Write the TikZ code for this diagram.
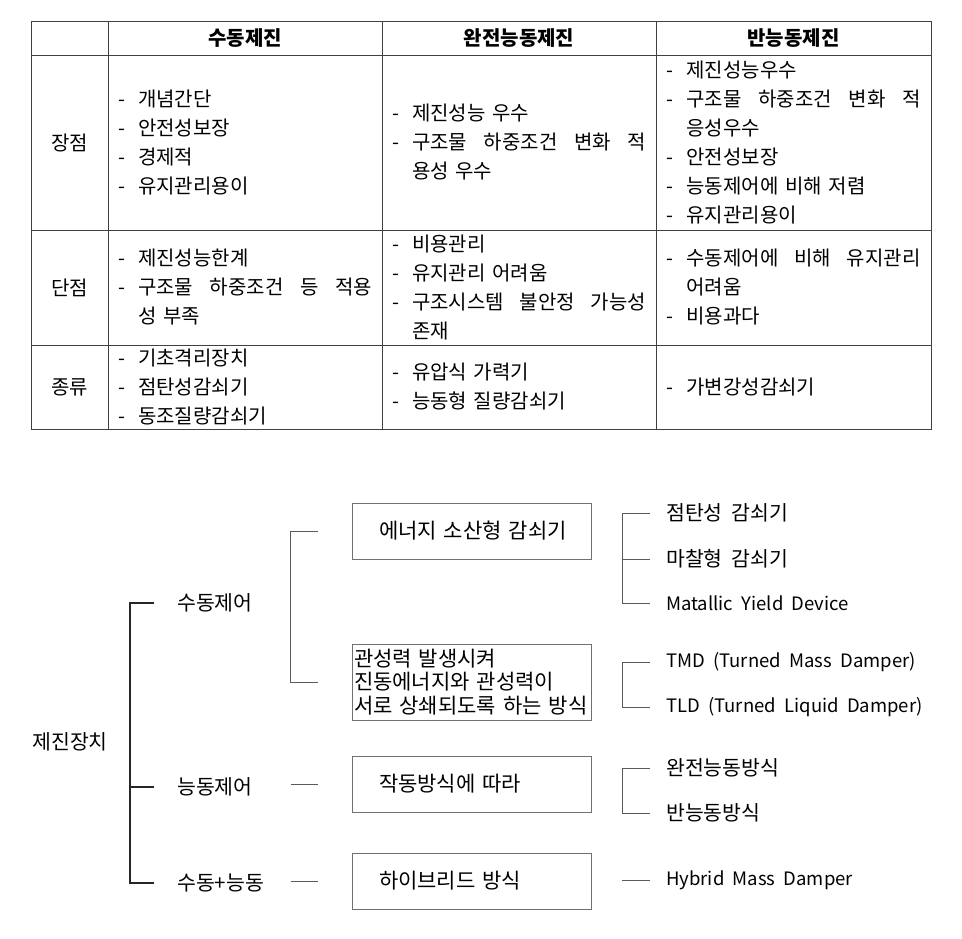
\documentclass[tikz,border=0pt]{standalone}
\usepackage{fontspec}
\setmainfont{Noto Sans CJK KR}[WordSpace=2]
\usepackage{tikz}
\definecolor{rulegray}{HTML}{404040}
\definecolor{boxgray}{HTML}{707070}
\definecolor{linegray}{HTML}{5A5A5A}
\newcommand*{\itm}{\makebox[20pt][l]{-}}
\newcommand*{\jline}[1]{\makebox[254pt][s]{\spaceskip=0.45em plus 1fil\relax\itm #1}}
\newcommand*{\cont}[1]{\hspace*{20pt}#1}

\begin{document}
\begin{tikzpicture}[x=1pt, y=-1pt,
    cell/.style={text width=254pt, align=left, inner sep=0pt,
      font=\fontsize{20}{29}\selectfont},
    head/.style={inner sep=0pt, font=\fontsize{20}{22}\selectfont\bfseries},
    rowname/.style={inner sep=0pt, font=\fontsize{20}{22}\selectfont},
    ctrl/.style={anchor=west, inner sep=0pt, font=\fontsize{20.5}{22}\selectfont},
    leaf/.style={anchor=west, inner sep=0pt, font=\fontsize{20.5}{22}\selectfont},
    enleaf/.style={leaf, font=\fontsize{18.5}{22}\selectfont},
    method/.style={draw=boxgray, line width=0.9pt, minimum height=56pt,
      text width=185pt, align=left, inner xsep=27pt,
      font=\fontsize{21}{23.5}\selectfont},
    trunk/.style={draw=black!85, line width=2pt},
    branch/.style={draw=linegray, line width=1pt}]
  \useasboundingbox (0,0) rectangle (962,938);

  % comparison table
  \draw[rulegray, line width=1pt] (31,21) rectangle (931,429);
  \foreach \x in {108, 382, 656}
    \draw[rulegray, line width=1pt] (\x,21) -- (\x,429);
  \foreach \y in {55, 230, 345}
    \draw[rulegray, line width=1pt] (31,\y) -- (931,\y);

  \node[head] (h1) at (245,38) {수동제진};
  \node[head] (h2) at (519,38) {완전능동제진};
  \node[head] (h3) at (793.5,38) {반능동제진};

  \node[rowname] (r1) at (69.5,142.5) {장점};
  \node[rowname] (r2) at (69.5,287.5) {단점};
  \node[rowname] (r3) at (69.5,387) {종류};

  \node[cell] (pros1) at (245,142.5) {\itm 개념간단\\\itm 안전성보장\\\itm 경제적\\\itm 유지관리용이};
  \node[cell] (pros2) at (519,142.5) {\itm 제진성능 우수\\\jline{구조물 하중조건 변화 적}\\\cont{용성 우수}};
  \node[cell] (pros3) at (793.5,142.5) {\itm 제진성능우수\\\jline{구조물 하중조건 변화 적}\\\cont{응성우수}\\\itm 안전성보장\\\itm 능동제어에 비해 저렴\\\itm 유지관리용이};

  \node[cell] (cons1) at (245,287.5) {\itm 제진성능한계\\\jline{구조물 하중조건 등 적용}\\\cont{성 부족}};
  \node[cell] (cons2) at (519,287.5) {\itm 비용관리\\\itm 유지관리 어려움\\\jline{구조시스템 불안정 가능성}\\\cont{존재}};
  \node[cell] (cons3) at (793.5,287.5) {\jline{수동제어에 비해 유지관리}\\\cont{어려움}\\\itm 비용과다};

  \node[cell] (kind1) at (245,387) {\itm 기초격리장치\\\itm 점탄성감쇠기\\\itm 동조질량감쇠기};
  \node[cell] (kind2) at (519,387) {\itm 유압식 가력기\\\itm 능동형 질량감쇠기};
  \node[cell] (kind3) at (793.5,387) {\itm 가변강성감쇠기};

  % damper tree
  \node[ctrl, anchor=center] (root) at (70,742) {제진장치};
  \node[ctrl] (passive) at (177,603) {수동제어};
  \node[ctrl] (active) at (177,787) {능동제어};
  \node[ctrl] (hybrid) at (177,883) {수동+능동};

  \node[method] (dissip) at (471.5,531) {\mbox{에너지 소산형 감쇠기}};
  \node[method, inner xsep=2pt, text width=235pt, minimum height=76pt] (inertia)
    at (471.5,682) {\mbox{관성력 발생시켜}\\\mbox{진동에너지와 관성력이}\\\mbox{서로 상쇄되도록 하는 방식}};
  \node[method] (mode) at (471.5,784) {\mbox{작동방식에 따라}};
  \node[method] (hmd) at (471.5,881) {\mbox{하이브리드 방식}};

  \node[leaf] (visco) at (666,513) {점탄성 감쇠기};
  \node[leaf] (fric) at (666,559) {마찰형 감쇠기};
  \node[enleaf] (myd) at (666,603) {Matallic Yield Device};
  \node[enleaf] (tmd) at (666,662) {TMD (Turned Mass Damper)};
  \node[enleaf] (tld) at (666,707) {TLD (Turned Liquid Damper)};
  \node[leaf] (full) at (666,768) {완전능동방식};
  \node[leaf] (semi) at (666,813) {반능동방식};
  \node[enleaf] (hmdname) at (666,880) {Hybrid Mass Damper};

  \draw[trunk] ([xshift=-23pt]passive.west) -| ([xshift=-47pt]hybrid.west)
    -- ([xshift=-23pt]hybrid.west);
  \draw[trunk] ([xshift=-47pt]active.west) -- ([xshift=-23pt]active.west);

  \draw[branch] ([xshift=-34pt]dissip.west) -| ([xshift=-61pt]inertia.west)
    -- ([xshift=-34pt]inertia.west);
  \draw[branch] ([xshift=-61pt]mode.west) -- ([xshift=-34pt]mode.west);
  \draw[branch] ([xshift=-61pt]hmd.west) -- ([xshift=-34pt]hmd.west);

  \draw[branch] ([xshift=-16pt]visco.west) -| ([xshift=-44pt]myd.west)
    -- ([xshift=-16pt]myd.west);
  \draw[branch] ([xshift=-44pt]fric.west) -- ([xshift=-16pt]fric.west);
  \draw[branch] ([xshift=-16pt]tmd.west) -| ([xshift=-44pt]tld.west)
    -- ([xshift=-16pt]tld.west);
  \draw[branch] ([xshift=-16pt]full.west) -| ([xshift=-44pt]semi.west)
    -- ([xshift=-16pt]semi.west);
  \draw[branch] ([xshift=-44pt]hmdname.west) -- ([xshift=-16pt]hmdname.west);
\end{tikzpicture}
\end{document}
